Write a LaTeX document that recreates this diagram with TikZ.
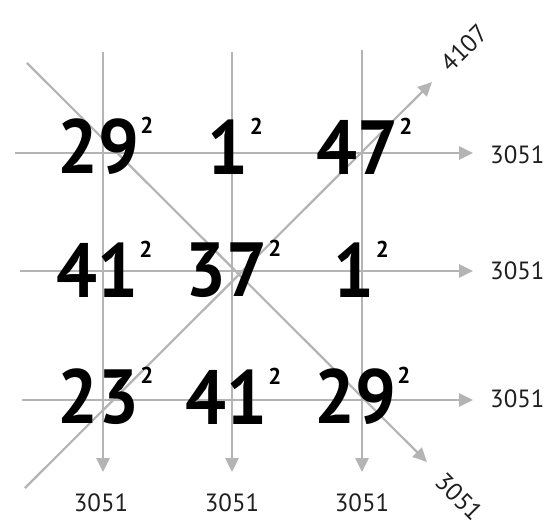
\documentclass[tikz,border=0pt]{standalone}
\usepackage{fontspec}
\setmainfont{PT Sans}
\newfontfamily\numfont{PT Sans}[FakeStretch=0.94]
\usetikzlibrary{arrows.meta}
\definecolor{lg}{RGB}{180,180,180}
\begin{document}
\begin{tikzpicture}[x=1bp,y=-1bp,
  gridline/.style={draw=lg,line width=2.8bp,-{Triangle[length=14bp,width=13bp]}},
  diagline/.style={draw=lg,line width=2.2bp,-{Triangle[length=14bp,width=13bp]}},
  big/.style={inner sep=0pt,font=\numfont\fontsize{77}{77}\selectfont\bfseries},
  sq/.style={inner sep=0pt,anchor=north west,font=\fontsize{23}{23}\selectfont\bfseries},
  lbl/.style={inner sep=0pt,font=\fontsize{25}{25}\selectfont,text=black!88}]
\useasboundingbox (0,0) rectangle (555,527);
% end points
\coordinate (v1s) at (103,52);  \coordinate (v1e) at (103,472);
\coordinate (v2s) at (232,52);  \coordinate (v2e) at (232,472);
\coordinate (v3s) at (362,50);  \coordinate (v3e) at (362,472);
\coordinate (h1s) at (15,153);  \coordinate (h1e) at (473,153);
\coordinate (h2s) at (20,271);  \coordinate (h2e) at (473,271);
\coordinate (h3s) at (22,400);  \coordinate (h3e) at (473,400);
\coordinate (d1s) at (27,63);   \coordinate (d1e) at (427,462);
\coordinate (d2s) at (25,488);  \coordinate (d2e) at (432,82);
% lines
\draw[gridline] (v1s) -- (v1e);
\draw[gridline] (v2s) -- (v2e);
\draw[gridline] (v3s) -- (v3e);
\draw[gridline] (h1s) -- (h1e);
\draw[gridline] (h2s) -- (h2e);
\draw[gridline] (h3s) -- (h3e);
\draw[diagline] (d1s) -- (d1e);
\draw[diagline] (d2s) -- (d2e);
% numbers
\node[big] (a1) at (98,147) {29};
\node[big] (a2) at (228,147) {1};
\node[big] (a3) at (357,147) {47};
\node[big] (b1) at (97,270) {41};
\node[big] (b2) at (226,270) {37};
\node[big] (b3) at (354,270) {1};
\node[big] (c1) at (98,397) {23};
\node[big] (c2) at (226,397) {41};
\node[big] (c3) at (355,397) {29};
\foreach \n in {a1,a2,a3,b1,b2,b3,c1,c2,c3}
  \node[sq] (s\n) at ([xshift=1bp,yshift=2bp]\n.north east) {2};
% labels
\node[lbl,anchor=west] (r1) at (490,155) {3051};
\node[lbl,anchor=west] (r2) at (490,271) {3051};
\node[lbl,anchor=west] (r3) at (490,399) {3051};
\node[lbl] (bt1) at (101,503) {3051};
\node[lbl] (bt2) at (232,503) {3051};
\node[lbl] (bt3) at (362,503) {3051};
\node[lbl,rotate=45] (dg1) at (464,48) {4107};
\node[lbl,rotate=-45] (dg2) at (459,497) {3051};
\end{tikzpicture}
\end{document}
